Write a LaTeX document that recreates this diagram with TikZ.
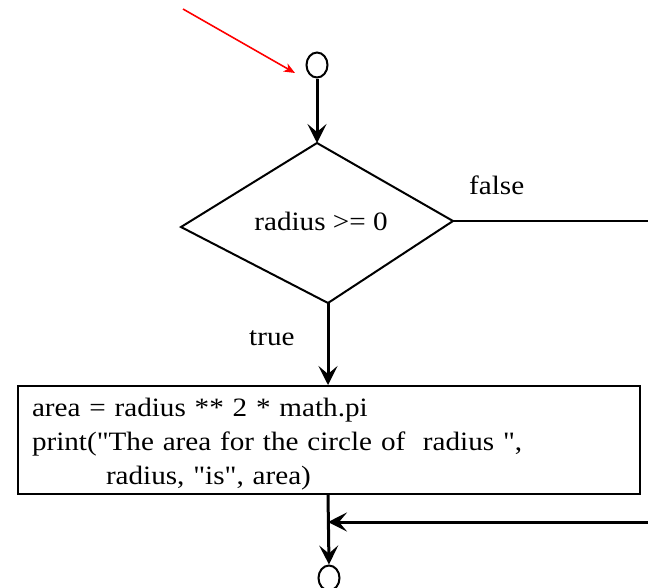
\documentclass[tikz,border=0pt]{standalone}
\usepackage{fontspec}
\setmainfont{Liberation Serif}[FakeStretch=1.10,Ligatures=TeXOff]
\usetikzlibrary{arrows.meta,shapes.geometric}
\begin{document}
\begin{tikzpicture}[x=1pt,y=-1pt,
  every node/.style={font=\fontsize{26.5}{34}\selectfont},
  flow/.style={line width=3pt,-{Stealth[length=19pt,width=19pt,inset=8pt]}},
  shapeline/.style={line width=2pt},
  term/.style={draw,ellipse,line width=2pt,minimum width=21pt,minimum height=25pt,inner sep=0pt},
  redarrow/.style={red,line width=1.6pt,-{Stealth[length=11pt,width=9pt,inset=3pt]}}
]
\useasboundingbox (0,0) rectangle (648,587);
% start terminal and red pointer
\node[term] (c1) at (317,65) {};
\coordinate (rs) at (183,9);
\coordinate (rt) at (295,73);
\draw[redarrow] (rs) -- (rt);
% decision diamond
\coordinate (dtop) at (317,143);
\coordinate (dright) at (453,221);
\coordinate (dbot) at (328,303);
\coordinate (dleft) at (181,227);
\draw[shapeline,line join=miter] (dtop) -- (dright) -- (dbot) -- (dleft) -- cycle;
\node (dtext) at (321,221) {radius >= 0};
\draw[flow] (c1.south) -- (dtop);
% labels
\node[anchor=base west,inner sep=0pt] (lfalse) at (469,194) {false};
\node[anchor=base west,inner sep=0pt] (ltrue) at (249,345) {true};
% process box
\node[draw,shapeline,rectangle,text width=594pt,align=left,inner xsep=14pt,
      inner ysep=0pt,text height=30pt,text depth=78pt,anchor=north west] (box) at (17,385)
  {area = radius ** 2 * math.pi\\
   print("The area for the circle of~~radius ",\\
   \hspace*{74pt}radius, "is", area)};
\draw[flow] (dbot) -- (box.north west -| dbot);
% false branch
\coordinate (fr) at (648,221);
\draw[shapeline] (dright) -- (fr);
% end terminal and merge
\node[term] (c2) at (329,578) {};
\coordinate (rr) at (648,522);
\coordinate (j) at (328,522);
\draw[flow] (box.south west -| j) -- (c2.north);
\draw[flow] (rr) -- (j);
\end{tikzpicture}
\end{document}
